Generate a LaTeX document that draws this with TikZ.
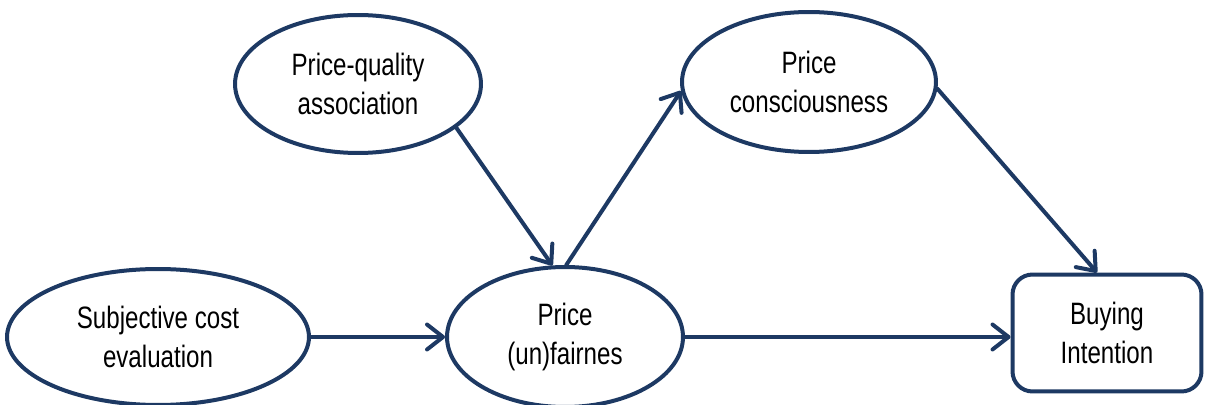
\documentclass[tikz,border=0pt]{standalone}
\usepackage{fontspec}
\setmainfont[FakeStretch=0.78]{Liberation Sans}
\usetikzlibrary{shapes.geometric,arrows.meta}
\definecolor{navy}{RGB}{29,57,99}
\begin{document}
\begin{tikzpicture}[x=0.02cm,y=-0.02cm,
  latent/.style={ellipse,draw=navy,line width=0.08cm,align=center,inner sep=0pt,
    font=\fontsize{17.6}{22.7}\selectfont},
  outcome/.style={rectangle,rounded corners=0.4cm,draw=navy,line width=0.08cm,align=center,
    font=\fontsize{17.6}{22.7}\selectfont},
  link/.style={draw=navy,line width=0.08cm,line cap=round,
    -{Straight Barb[length=0.32cm,width=0.5cm,round]}}]
\useasboundingbox (0,0) rectangle (1214,405);
\node[latent,minimum width=4.92cm,minimum height=2.76cm] (PQ) at (358,84) {Price-quality\\association};
\node[latent,minimum width=5.08cm,minimum height=2.8cm] (PC) at (809,82) {Price\\consciousness};
\node[latent,minimum width=6.04cm,minimum height=2.72cm] (SC) at (158,337) {Subjective cost\\evaluation};
\node[latent,minimum width=4.72cm,minimum height=2.8cm] (PF) at (565,337) {Price\\(un)fairnes};
\node[outcome,minimum width=3.78cm,minimum height=2.34cm] (BI) at (1107,333) {Buying\\Intention};
\draw[link] (PQ.-24) -- (PF.100);
\draw[link] (PF.89) -- (PC.184);
\draw[link] (SC.east) -- (PF.west);
\draw[link] (PF.east) -- (PF.east -| BI.west);
\draw[link] (PC.-3) -- ([xshift=-0.2cm]BI.north);
\end{tikzpicture}
\end{document}
